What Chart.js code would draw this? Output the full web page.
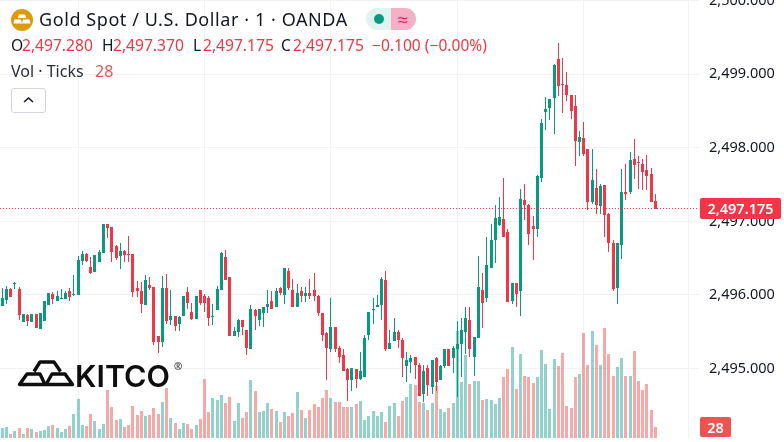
<!DOCTYPE html>
<html>
<head>
<meta charset="utf-8">
<title>Gold Spot / U.S. Dollar</title>
<script src="https://cdn.jsdelivr.net/npm/chart.js@4/dist/chart.umd.min.js"></script>
<style>
  html, body { margin: 0; padding: 0; background: #fff; overflow: hidden; }
  #wrap { position: relative; width: 784px; height: 442px; font-family: "Noto Sans", sans-serif; color: #131722; }
  #wrap canvas { position: absolute; left: 0; top: 0; }
  .t { position: absolute; white-space: nowrap; line-height: 20px; }
  .ohlc { font-size: 15.6px; top: 35px; }
  .red { color: #f23645; }
  .tag { position: absolute; color: #fff; font-weight: 600; font-size: 14.5px; line-height: 20px; text-align: center; border-radius: 2px; }
</style>
</head>
<body>
<div id="wrap">
  <canvas id="myChart" width="784" height="442"></canvas>

  <svg class="t" style="left:11px;top:9px" width="22" height="22" viewBox="0 0 22 22">
    <circle cx="11" cy="11" r="11" fill="#dc9a0c"/>
    <path d="M8 5.500h6l1.300 3.500H6.700zM3.500 10.500h6.500l1 4H2.500zM12 10.500h6.500l1 4H11z" fill="#fff"/>
  </svg>
  <div class="t" style="left:39px;top:9px;font-size:18px;letter-spacing:.58px">Gold Spot / U.S. Dollar · 1 · OANDA</div>

  <div style="position:absolute;left:366px;top:8px;width:25px;height:22px;background:#dff4f1;border-radius:11px 0 0 11px"></div>
  <div style="position:absolute;left:374px;top:14px;width:10px;height:10px;background:#089981;border-radius:5px"></div>
  <div style="position:absolute;left:391px;top:8px;width:25px;height:22px;background:#f5b0c6;border-radius:0 11px 11px 0"></div>
  <div class="t" style="left:391px;top:9px;width:24px;text-align:center;font-size:18px;color:#e91e63">≈</div>

  <div class="t ohlc" style="left:11px">O</div>
  <div class="t ohlc red" style="left:22px">2,497.280</div>
  <div class="t ohlc" style="left:102px">H</div>
  <div class="t ohlc red" style="left:113px">2,497.370</div>
  <div class="t ohlc" style="left:193px">L</div>
  <div class="t ohlc red" style="left:203px">2,497.175</div>
  <div class="t ohlc" style="left:281px">C</div>
  <div class="t ohlc red" style="left:293px">2,497.175</div>
  <div class="t ohlc red" style="left:372px">−0.100 (−0.00%)</div>

  <div class="t" style="left:11px;top:61px;font-size:16px;color:#2a2e39">Vol · Ticks</div>
  <div class="t" style="left:95px;top:61px;font-size:16px;color:#ef5350">28</div>

  <div style="position:absolute;left:11px;top:88px;width:33px;height:23px;border:1px solid #d1d4dc;border-radius:3px;background:#fff"></div>
  <svg style="position:absolute;left:22px;top:96px" width="13" height="8" viewBox="0 0 13 8">
    <path d="M2 6l4.500-4L11 6" fill="none" stroke="#131722" stroke-width="1.600"/>
  </svg>

  <svg style="position:absolute;left:17px;top:359px" width="60" height="30" viewBox="0 0 60 30">
    <path d="M2.500 25.500L10 15h13l5 10.500zM29 25.500L35 15h13l7.500 10.500zM17 12.500L23 3h14l6.500 9.500" fill="none" stroke="#0d0d0d" stroke-width="3.400" stroke-linejoin="round"/>
  </svg>
  <div class="t" style="left:75px;top:359px;font:600 30.500px/34px Inter;color:#0d0d0d">KITCO</div>
  <div class="t" style="left:174px;top:360px;font-size:10px;font-weight:600;line-height:12px;color:#333">®</div>

  <div class="tag" style="left:700px;top:198px;width:81px;height:21px;background:#f23645">2,497.175</div>
  <div class="tag" style="left:700px;top:417px;width:31px;height:20px;background:#ef5350">28</div>
</div>

<script>
var opens = [2495.85,2495.93,2496.08,2496.15,2496.08,2495.63,2495.73,2495.63,2495.74,2495.54,
  2495.65,2495.86,2496.01,2495.92,2495.95,2495.94,2496.05,2496.00,2496.00,2496.46,
  2496.56,2496.38,2496.31,2496.45,2496.57,2496.96,2496.92,2496.67,2496.53,2496.60,
  2496.56,2496.56,2496.09,2496.05,2495.86,2496.14,2496.11,2495.44,2495.36,2496.09,
  2495.66,2495.71,2495.60,2495.71,2496.04,2495.77,2495.67,2496.07,2495.99,2495.96,
  2495.70,2495.80,2496.07,2496.52,2496.24,2495.44,2495.50,2495.66,2495.53,2495.27,
  2495.80,2495.66,2495.76,2495.83,2495.92,2495.83,2496.10,2496.00,2496.33,2496.07,
  2495.83,2496.05,2495.99,2496.02,2496.07,2495.99,2495.76,2495.48,2495.26,2495.57,
  2495.28,2495.18,2494.99,2494.84,2494.99,2494.86,2494.89,2495.46,2495.79,2495.84,
  2495.87,2496.20,2495.27,2495.37,2495.49,2495.39,2495.04,2495.09,2495.15,2495.05,
  2494.65,2495.00,2494.75,2495.14,2494.84,2495.04,2495.27,2495.14,2495.26,2495.33,
  2495.50,2495.66,2495.15,2495.42,2496.07,2495.96,2496.37,2496.75,2496.95,2497.03,
  2496.86,2495.92,2496.16,2496.06,2497.29,2497.22,2496.94,2496.89,2497.59,2498.49,
  2498.54,2498.68,2499.21,2498.86,2498.86,2498.72,2498.57,2498.08,2498.14,2497.99,
  2497.27,2497.46,2497.21,2497.50,2497.10,2496.71,2496.10,2496.68,2497.40,2497.40,
  2497.85,2497.80,2497.78,2497.70,2497.65,2497.28];

var closes = [2495.96,2496.08,2495.97,2496.16,2495.73,2495.74,2495.65,2495.74,2495.55,2495.75,
  2495.92,2496.03,2495.94,2495.99,2495.96,2496.03,2495.97,2496.01,2496.47,2496.56,
  2496.46,2496.30,2496.54,2496.58,2496.96,2496.91,2496.58,2496.50,2496.60,2496.54,
  2496.54,2496.04,2496.05,2495.88,2496.20,2496.09,2495.36,2495.36,2496.09,2495.65,
  2495.71,2495.58,2495.70,2495.99,2495.89,2495.67,2495.99,2495.89,2495.89,2495.69,
  2495.71,2496.08,2496.57,2496.20,2495.44,2495.51,2495.66,2495.57,2495.28,2495.81,
  2495.71,2495.81,2495.84,2495.88,2495.81,2496.06,2496.02,2496.36,2496.10,2495.83,
  2496.02,2495.98,2496.03,2495.98,2495.98,2495.75,2495.45,2495.28,2495.57,2495.27,
  2495.16,2494.96,2494.84,2495.00,2494.86,2494.96,2495.42,2495.77,2495.80,2495.87,
  2496.21,2495.26,2495.35,2495.49,2495.39,2495.14,2495.12,2495.14,2495.05,2494.63,
  2494.97,2494.77,2495.11,2494.82,2495.04,2495.27,2495.04,2495.28,2495.33,2495.53,
  2495.68,2495.27,2495.43,2496.11,2495.89,2496.41,2496.75,2497.05,2497.06,2496.79,
  2495.91,2496.16,2496.01,2497.31,2497.22,2496.83,2496.89,2497.62,2498.34,2498.53,
  2498.67,2499.13,2498.84,2498.85,2498.72,2498.50,2498.09,2498.15,2497.92,2497.27,
  2497.56,2497.22,2497.48,2497.09,2496.71,2496.08,2496.70,2497.40,2497.37,2497.84,
  2497.77,2497.79,2497.67,2497.62,2497.27,2497.175];

var highs = [2496.09,2496.12,2496.10,2496.18,2496.11,2495.74,2495.74,2495.74,2495.74,2495.75,
  2495.92,2496.03,2496.04,2496.05,2496.08,2496.05,2496.09,2496.27,2496.53,2496.60,
  2496.57,2496.51,2496.54,2496.61,2496.96,2496.96,2496.92,2496.68,2496.71,2496.61,
  2496.80,2496.56,2496.19,2496.18,2496.27,2496.24,2496.11,2495.44,2496.26,2496.28,
  2496.07,2495.71,2495.71,2495.99,2496.11,2495.89,2495.99,2496.07,2496.01,2495.99,
  2495.88,2496.12,2496.58,2496.61,2496.24,2495.56,2495.67,2495.66,2495.53,2495.87,
  2495.81,2495.81,2495.84,2496.07,2496.06,2496.10,2496.11,2496.36,2496.36,2496.21,
  2496.15,2496.11,2496.11,2496.21,2496.30,2496.00,2495.76,2495.49,2495.96,2495.57,
  2495.30,2495.26,2495.00,2495.00,2494.99,2495.23,2495.45,2495.77,2495.96,2496.00,
  2496.25,2496.33,2495.52,2495.68,2495.52,2495.41,2495.23,2495.18,2495.15,2495.08,
  2495.05,2495.05,2495.11,2495.16,2495.05,2495.27,2495.27,2495.30,2495.65,2495.69,
  2495.84,2495.84,2495.43,2496.53,2496.30,2496.79,2496.97,2497.22,2497.33,2497.59,
  2496.89,2496.16,2496.16,2497.44,2497.51,2497.24,2497.07,2497.63,2498.39,2498.69,
  2498.67,2499.14,2499.43,2499.22,2499.03,2498.72,2498.72,2498.23,2498.35,2497.99,
  2497.99,2497.71,2497.51,2497.50,2497.12,2496.75,2496.71,2497.71,2497.78,2497.95,
  2498.12,2497.89,2497.85,2497.90,2497.73,2497.37];

var lows = [2495.85,2495.88,2495.97,2496.08,2495.66,2495.63,2495.58,2495.63,2495.55,2495.54,
  2495.65,2495.86,2495.88,2495.92,2495.95,2495.94,2495.92,2495.99,2496.00,2496.41,
  2496.45,2496.28,2496.31,2496.45,2496.57,2496.78,2496.45,2496.47,2496.35,2496.45,
  2496.45,2495.97,2495.97,2495.75,2495.86,2496.07,2495.32,2495.21,2495.29,2495.60,
  2495.59,2495.51,2495.51,2495.71,2495.81,2495.66,2495.67,2495.86,2495.77,2495.58,
  2495.59,2495.80,2496.07,2496.20,2495.44,2495.44,2495.43,2495.46,2495.19,2495.27,
  2495.52,2495.58,2495.56,2495.76,2495.81,2495.83,2496.00,2495.88,2496.07,2495.83,
  2495.83,2495.90,2495.91,2495.94,2495.92,2495.72,2495.38,2494.85,2495.23,2495.23,
  2495.08,2494.96,2494.56,2494.69,2494.73,2494.85,2494.89,2495.39,2495.60,2495.84,
  2495.66,2495.24,2495.26,2495.37,2495.28,2494.89,2494.81,2494.94,2494.86,2494.63,
  2494.55,2494.63,2494.65,2494.70,2494.84,2495.00,2495.03,2494.94,2494.61,2494.88,
  2495.20,2495.15,2494.90,2495.42,2495.55,2495.91,2496.37,2496.44,2496.94,2496.79,
  2495.91,2495.88,2495.83,2495.72,2497.02,2496.68,2496.48,2496.79,2497.54,2498.24,
  2498.38,2498.19,2498.71,2498.48,2498.64,2498.39,2497.75,2497.89,2497.89,2497.16,
  2497.24,2497.10,2497.10,2496.79,2496.59,2496.06,2495.88,2496.49,2497.29,2497.37,
  2497.58,2497.44,2497.43,2497.43,2497.27,2497.175];

var volumes = [25,28,10,18,25,10,25,23,15,18,20,31,33,25,15,23,31,61,99,33,
  31,61,43,23,36,122,79,46,48,28,33,81,59,69,56,59,76,61,92,127,
  51,38,23,38,36,23,33,48,150,66,102,97,109,89,104,43,89,51,66,148,
  120,66,69,89,74,69,41,66,56,64,117,71,51,71,86,79,102,122,102,92,
  92,79,79,79,86,94,46,56,69,56,66,41,81,89,56,94,104,137,135,92,
  89,71,89,132,74,66,76,89,272,142,211,137,145,145,97,99,97,86,102,155,
  176,232,125,214,158,155,140,155,224,188,74,201,183,216,81,76,155,163,267,186,
  272,237,186,280,214,158,181,204,158,158,221,145,122,137,71,28];

var priceTicks = [2495, 2496, 2497, 2498, 2499, 2500];
var timeGrid = [18, 48, 78, 108, 138, 162.9];
var lastPrice = 2497.175;

var upColor = '#089981';
var downColor = '#f23645';
var upVolume = 'rgba(38, 166, 154, 0.5)';
var downVolume = 'rgba(239, 83, 80, 0.5)';
var gridColor = '#f1f2f4';

var xMin = -0.546, xMax = 165.37;

function isUp(i) {
  return closes[i] >= opens[i];
}

var candleColors = opens.map((o, i) => isUp(i) ? upColor : downColor);
var volumeColors = opens.map((o, i) => isUp(i) ? upVolume : downVolume);

// tradingview keeps its candles on whole pixels, so snap the bars before drawing
const snapBars = {
  id: 'snapBars',
  beforeDatasetsDraw(chart) {
    chart.getSortedVisibleDatasetMetas().forEach(meta => {
      if (meta.type !== 'bar') return;
      meta.data.forEach(el => {
        el.x = Math.floor(el.x) + 0.5;
        el.y = Math.round(el.y);
        el.base = Math.round(el.base);
        if (el.y === el.base) el.base = el.y + 1;
      });
    });
  }
};

var ctx = document.getElementById('myChart').getContext('2d');
var myChart = new Chart(ctx, {
  type: 'bar',
  plugins: [snapBars],
  data: {
    datasets: [
      {
        type: 'line',
        data: [{x: xMin, y: lastPrice}, {x: xMax - 0.45, y: lastPrice}],
        borderColor: downColor,
        borderWidth: 1,
        borderDash: [1, 2],
        pointRadius: 0,
        yAxisID: 'y',
        order: 1
      },
      {
        data: opens.map((o, i) => ({x: i, y: [o, closes[i]]})),
        backgroundColor: candleColors,
        barThickness: 3,
        minBarLength: 1,
        inflateAmount: 0,
        grouped: false,
        yAxisID: 'y',
        order: 2
      },
      {
        data: lows.map((l, i) => ({x: i, y: [l, highs[i]]})),
        backgroundColor: candleColors,
        barThickness: 1,
        inflateAmount: 0,
        grouped: false,
        yAxisID: 'y',
        order: 3
      },
      {
        data: volumes.map((v, i) => ({x: i, y: v})),
        backgroundColor: volumeColors,
        barThickness: 3,
        inflateAmount: 0,
        grouped: false,
        yAxisID: 'y1',
        order: 4
      }
    ]
  },
  options: {
    responsive: false,
    animation: false,
    layout: { padding: { left: 0, right: 0, top: 0, bottom: 4 } },
    plugins: { legend: { display: false }, tooltip: { enabled: false } },
    scales: {
      x: {
        type: 'linear',
        offset: false,
        min: xMin,
        max: xMax,
        afterBuildTicks: axis => { axis.ticks = timeGrid.map(v => ({value: v})); },
        ticks: { display: false, autoSkip: false },
        grid: { color: gridColor, drawTicks: false, offset: false },
        border: { display: false }
      },
      y: {
        position: 'right',
        min: 2494.055,
        max: 2500.01,
        afterBuildTicks: axis => { axis.ticks = priceTicks.map(v => ({value: v})); },
        afterFit: axis => {
          axis.width = 85;
          axis.paddingTop = 0;
          axis.paddingBottom = 0;
        },
        ticks: {
          autoSkip: false,
          padding: 10,
          color: '#131722',
          font: { family: '"Noto Sans"', size: 14.5 },
          callback: v => v.toLocaleString('en-US', {minimumFractionDigits: 3, maximumFractionDigits: 3})
        },
        grid: { color: gridColor, drawTicks: false },
        border: { display: false }
      },
      y1: {
        display: false,
        min: 0,
        max: 1115
      }
    }
  }
});
</script>
</body>
</html>
